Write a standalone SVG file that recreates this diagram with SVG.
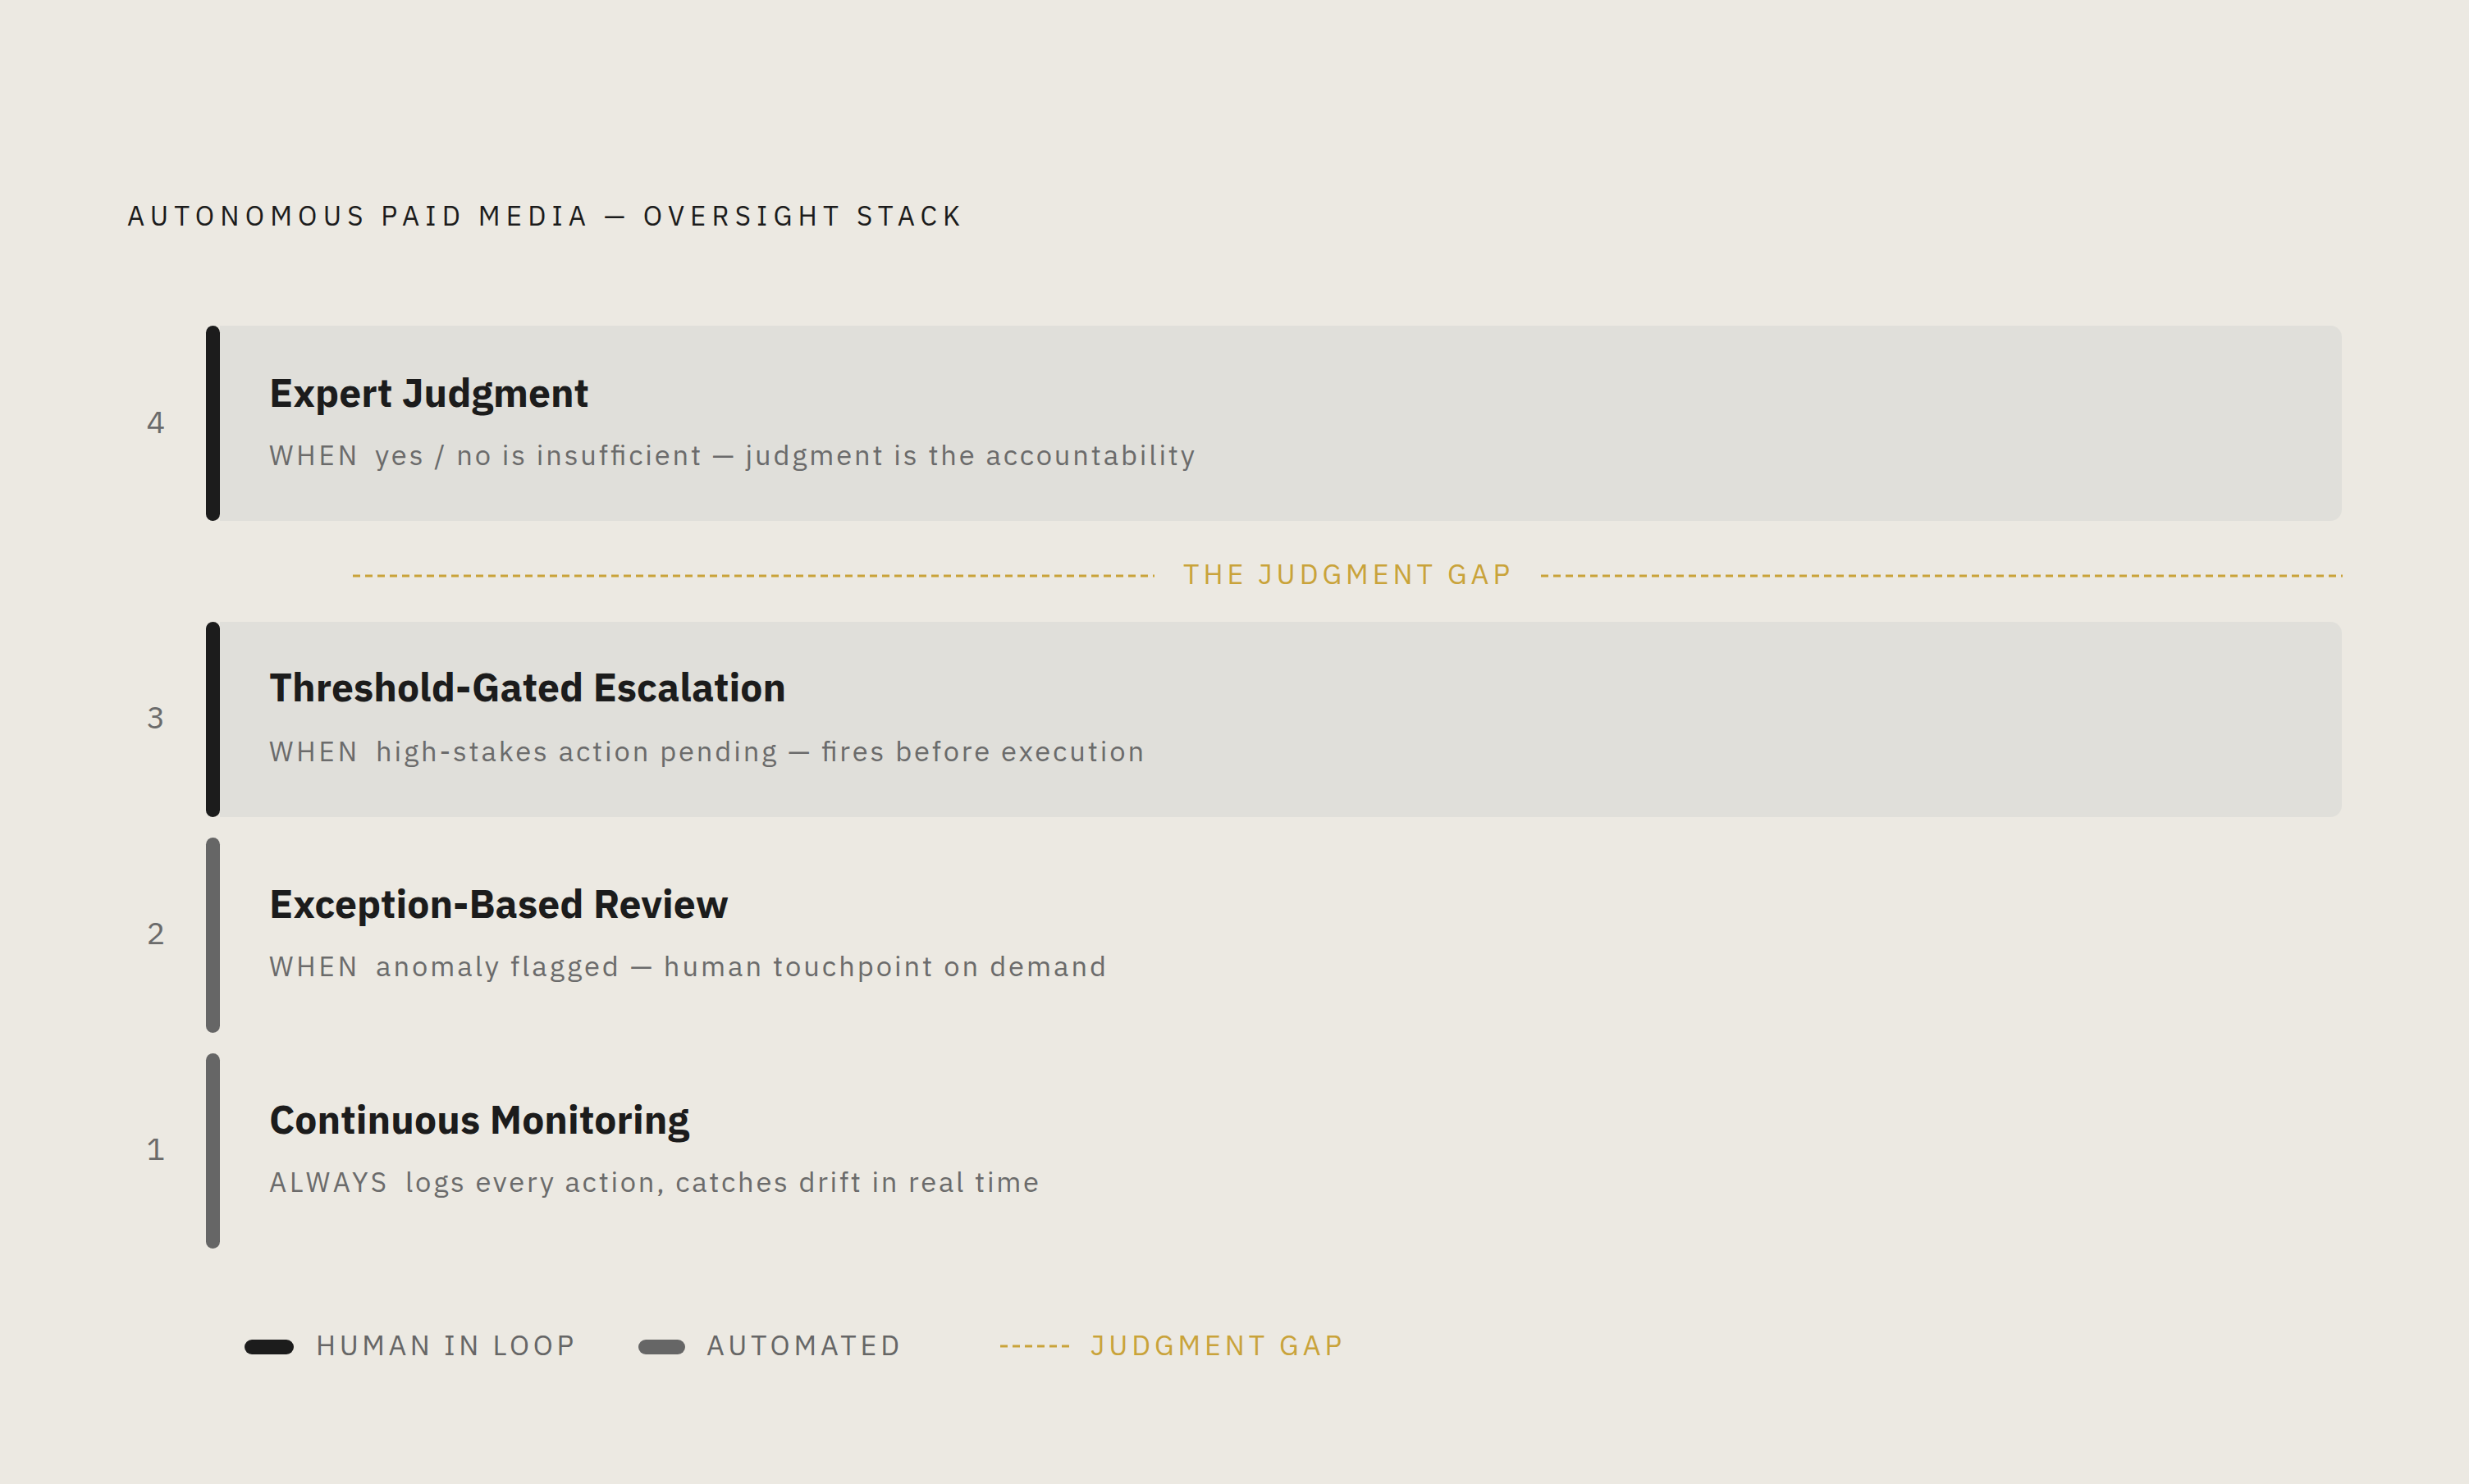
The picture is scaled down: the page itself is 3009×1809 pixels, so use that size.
<svg xmlns="http://www.w3.org/2000/svg" width="3009" height="1809" viewBox="0 0 3009 1809">
<style>
text{font-family:"IBM Plex Sans","Noto Sans","Liberation Sans",sans-serif}
.card{fill:#E0DFDA}
.human{fill:#1C1C1C}
.auto{fill:#666666}
.title{font-size:33px;fill:#1C1C1C}
.num{font-size:38px;fill:#6B6B6B;text-anchor:middle}
.h{font-size:48px;font-weight:700;fill:#1C1C1C}
.when{font-size:33px;fill:#6B6B6B}
.desc{font-size:34.5px;fill:#6B6B6B}
.legend{font-size:34px;fill:#666666}
.gold{fill:#C9A33A}
.gapline{stroke:#C9A33A;stroke-width:3;stroke-dasharray:9 6;fill:none}
</style>
<rect x="0" y="0" width="3009" height="1809" fill="#ECE9E2"/>

<text class="title" x="155" y="275" textLength="1015" lengthAdjust="spacing">AUTONOMOUS PAID MEDIA — OVERSIGHT STACK</text>

<g id="layer-4">
  <path class="card" d="M268,397 H2840 A14,14 0 0 1 2854,411 V621 A14,14 0 0 1 2840,635 H268 Z"/>
  <rect class="human" x="251" y="397" width="17" height="238" rx="8.5"/>
  <text class="num" x="190" y="528">4</text>
  <text class="h" x="328" y="496" textLength="390" lengthAdjust="spacing">Expert Judgment</text>
  <text class="when" x="328" y="567" textLength="107" lengthAdjust="spacing">WHEN</text>
  <text class="desc" x="457" y="567" textLength="999" lengthAdjust="spacing">yes / no is insufficient — judgment is the accountability</text>
</g>

<g id="judgment-gap">
  <line class="gapline" x1="430" y1="702" x2="1407" y2="702"/>
  <text class="gold" x="1442" y="712" font-size="34" textLength="398" lengthAdjust="spacing">THE JUDGMENT GAP</text>
  <line class="gapline" x1="1878" y1="702" x2="2855" y2="702"/>
</g>

<g id="layer-3">
  <path class="card" d="M268,758 H2840 A14,14 0 0 1 2854,772 V982 A14,14 0 0 1 2840,996 H268 Z"/>
  <rect class="human" x="251" y="758" width="17" height="238" rx="8.5"/>
  <text class="num" x="190" y="888">3</text>
  <text class="h" x="328" y="855" textLength="630" lengthAdjust="spacing">Threshold-Gated Escalation</text>
  <text class="when" x="328" y="928" textLength="107" lengthAdjust="spacing">WHEN</text>
  <text class="desc" x="458" y="928" textLength="936" lengthAdjust="spacing">high-stakes action pending — fires before execution</text>
</g>

<g id="layer-2">
  <rect class="auto" x="251" y="1021" width="17" height="238" rx="8.5"/>
  <text class="num" x="190" y="1151">2</text>
  <text class="h" x="328" y="1119" textLength="560" lengthAdjust="spacing">Exception-Based Review</text>
  <text class="when" x="328" y="1190" textLength="107" lengthAdjust="spacing">WHEN</text>
  <text class="desc" x="458" y="1190" textLength="890" lengthAdjust="spacing">anomaly flagged — human touchpoint on demand</text>
</g>

<g id="layer-1">
  <rect class="auto" x="251" y="1284" width="17" height="238" rx="8.5"/>
  <text class="num" x="190" y="1414">1</text>
  <text class="h" x="328" y="1382" textLength="512" lengthAdjust="spacing">Continuous Monitoring</text>
  <text class="when" x="328" y="1453" textLength="143" lengthAdjust="spacing">ALWAYS</text>
  <text class="desc" x="494" y="1453" textLength="772" lengthAdjust="spacing">logs every action, catches drift in real time</text>
</g>

<g id="legend">
  <rect class="human" x="298" y="1633" width="60" height="18" rx="9"/>
  <text class="legend" x="385" y="1652" textLength="314" lengthAdjust="spacing">HUMAN IN LOOP</text>
  <rect class="auto" x="778" y="1633" width="57" height="18" rx="9"/>
  <text class="legend" x="861" y="1652" textLength="235" lengthAdjust="spacing">AUTOMATED</text>
  <line class="gapline" x1="1219" y1="1641" x2="1305" y2="1641"/>
  <text class="gold" x="1329" y="1652" font-size="34" textLength="306" lengthAdjust="spacing">JUDGMENT GAP</text>
</g>
</svg>
